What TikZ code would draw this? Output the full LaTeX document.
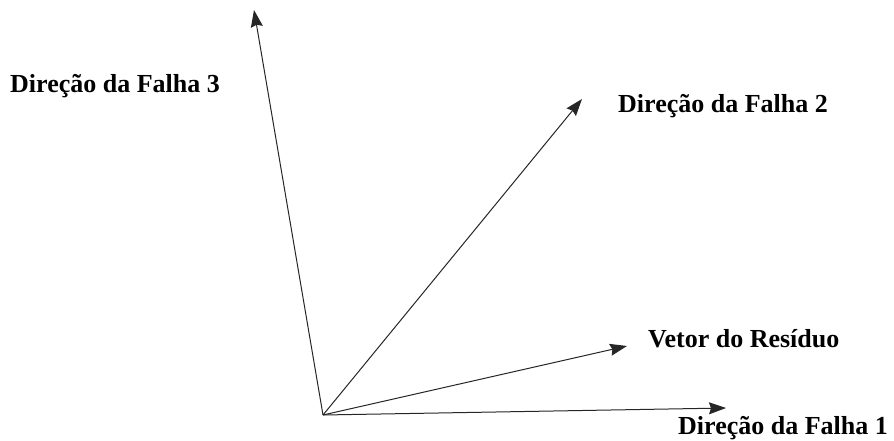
\documentclass[tikz,border=0pt]{standalone}
\usepackage{fontspec}
\setmainfont{Liberation Serif}
\usetikzlibrary{arrows.meta}
\begin{document}
\begin{tikzpicture}[x=1pt,y=-1pt,
  vec/.style={draw=black!85,line width=1pt,-{Stealth[length=17pt,width=12pt,inset=2pt]}},
  lbl/.style={font=\fontsize{26}{30}\selectfont\bfseries,inner sep=0pt,anchor=base west}]
\useasboundingbox (0,0) rectangle (894,441);
\coordinate (O) at (323,415);
\coordinate (t1) at (726,408);
\coordinate (t2) at (582,99);
\coordinate (t3) at (254,10);
\coordinate (tr) at (627,346);
\draw[vec] (O) -- (t1);
\draw[vec] (O) -- (t2);
\draw[vec] (O) -- (t3);
\draw[vec] (O) -- (tr);
\node[lbl] (l3) at (10,93) {Direção da Falha 3};
\node[lbl] (l2) at (618,113) {Direção da Falha 2};
\node[lbl] (lr) at (648,347) {Vetor do Resíduo};
\node[lbl] (l1) at (678,434) {Direção da Falha 1};
\end{tikzpicture}
\end{document}
